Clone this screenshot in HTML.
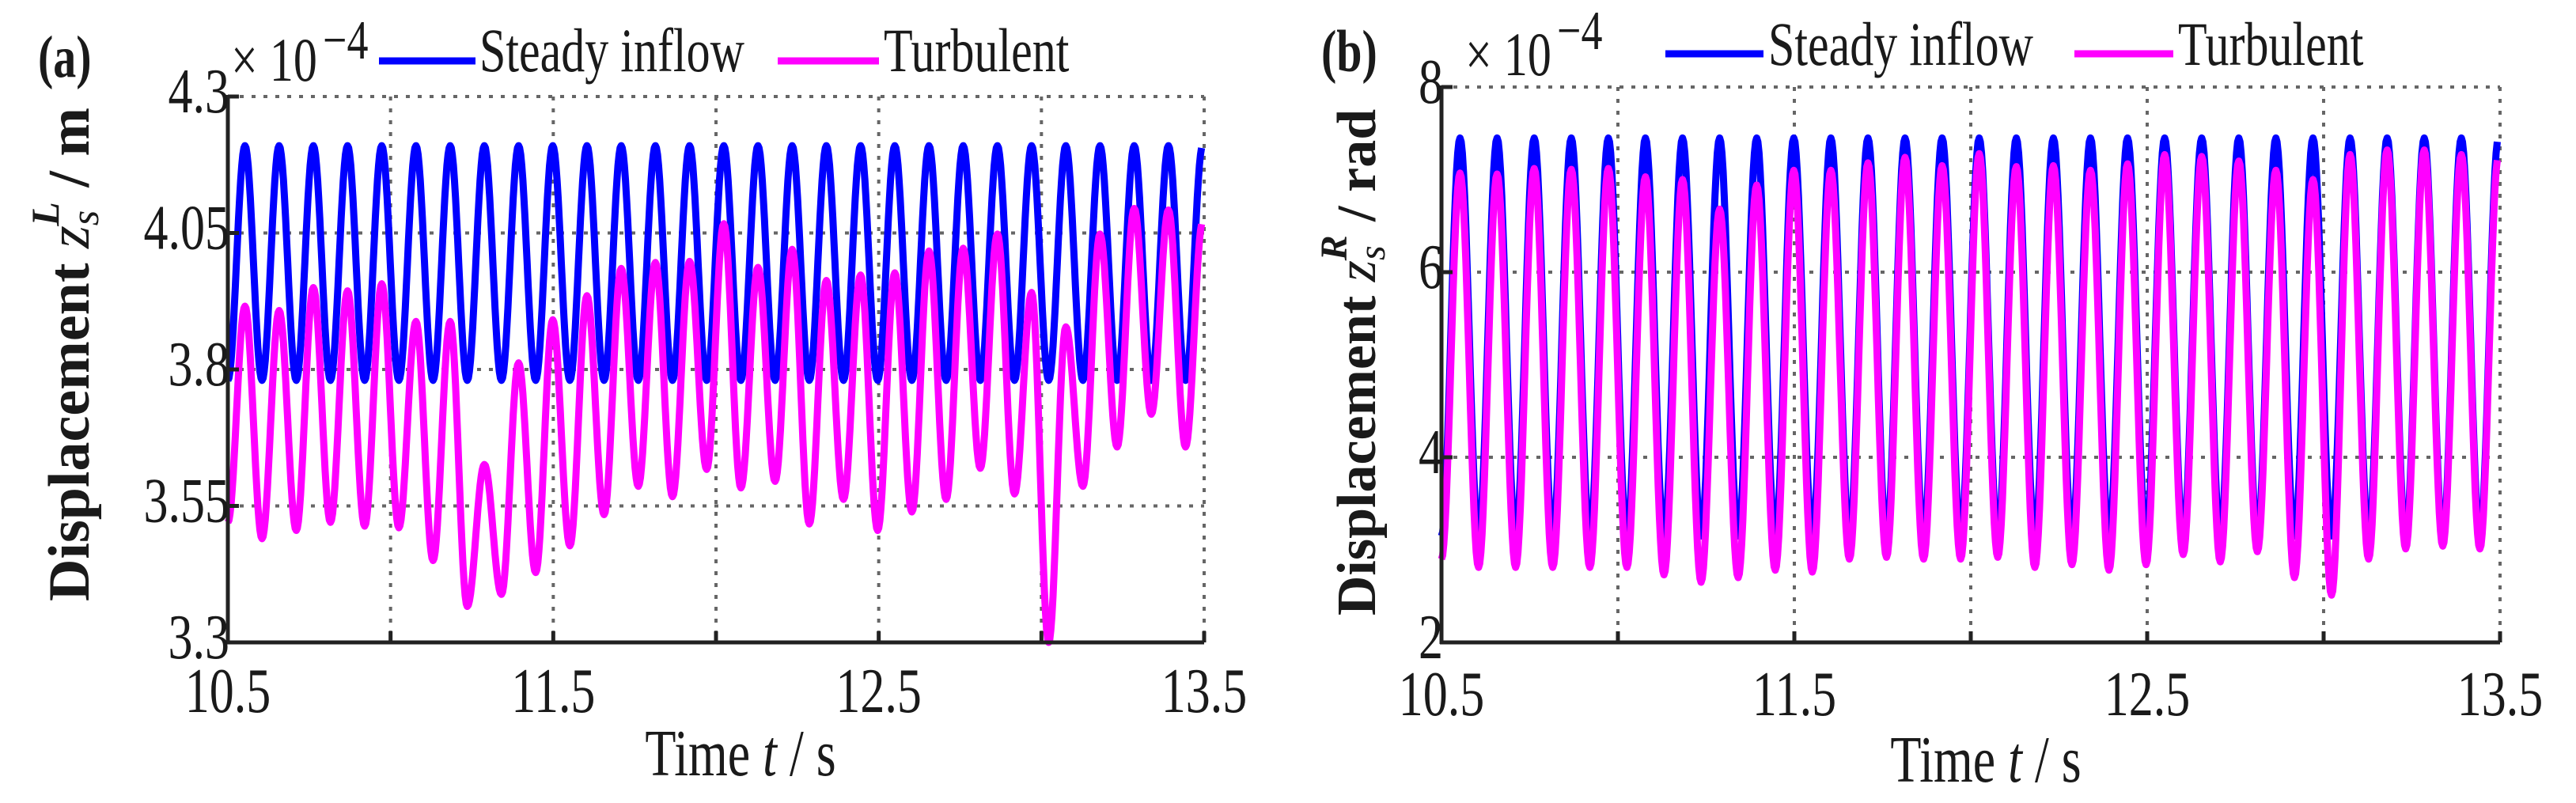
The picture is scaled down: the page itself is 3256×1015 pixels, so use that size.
<!DOCTYPE html>
<html><head><meta charset="utf-8">
<style>
html,body{margin:0;padding:0;background:#fff;}
svg{display:block;}
text{font-family:"Liberation Serif","DejaVu Serif",serif;fill:#1a1a1a;}
</style></head>
<body>
<svg id="fig" width="3256" height="1015" viewBox="0 0 3256 1015" xmlns="http://www.w3.org/2000/svg" font-family="Liberation Serif, serif"></svg>
<script>
// ---- shared x data ----
const xTicks = [10.5, 11, 11.5, 12, 12.5, 13, 13.5];
const xTickLabels = ["10.5", "", "11.5", "", "12.5", "", "13.5"];
const period = 0.1051;
const tStart = 10.5;

// ---- panel (a) data (x 1e-4 m) ----
const aYTicks = [3.3, 3.55, 3.8, 4.05, 4.3];
const aYTickLabels = ["3.3", "3.55", "3.8", "4.05", "4.3"];
const aSteadyPeaks = Array(29).fill(4.21);
const aSteadyTroughs = Array(29).fill(3.78);
const aTurbPeaks = [3.916,3.908,3.95,3.944,3.957,3.888,3.888,3.626,3.812,3.891,3.935,3.985,3.996,3.998,4.067,3.987,4.02,3.963,3.973,3.977,4.017,4.022,4.048,3.941,3.878,4.048,4.095,4.092,4.07];
const aTurbTroughs = [3.52,3.49,3.505,3.52,3.513,3.51,3.45,3.366,3.388,3.428,3.477,3.534,3.586,3.567,3.617,3.583,3.595,3.517,3.562,3.505,3.539,3.562,3.619,3.572,3.30,3.586,3.658,3.718,3.658];

// ---- panel (b) data (x 1e-4 rad) ----
const bYTicks = [2, 4, 6, 8];
const bYTickLabels = ["2", "4", "6", "8"];
const bSteadyPeaks = Array(29).fill(7.45);
const bSteadyTroughs = Array(29).fill(3.15);
const bTurbPeaks = [7.07,7.06,7.12,7.11,7.12,7.03,7.0,6.68,6.94,7.1,7.1,7.18,7.24,7.15,7.28,7.14,7.15,7.1,7.17,7.27,7.25,7.2,7.1,7.0,7.27,7.32,7.32,7.27,7.25];
const bTurbTroughs = [2.9,2.81,2.81,2.81,2.81,2.81,2.73,2.65,2.70,2.78,2.76,2.90,2.92,2.90,2.90,2.92,2.81,2.84,2.78,2.84,2.95,2.87,2.98,2.70,2.51,2.90,3.01,3.04,3.01];

const NS = "http://www.w3.org/2000/svg";
const svg = document.getElementById("fig");
function mk(tag, attrs, parent){
  const e = document.createElementNS(NS, tag);
  for (const k in attrs) e.setAttribute(k, attrs[k]);
  (parent||svg).appendChild(e);
  return e;
}
function txt(str, x, y, size, anchor, parent, extra){
  const e = mk("text", Object.assign({x:0, y:0, "font-size":size, "text-anchor":anchor||"start",
    "font-family":"Liberation Serif, serif",
    transform:`translate(${x},${y}) scale(1,1.3)`}, extra||{}), parent);
  e.textContent = str;
  return e;
}

function panel(cfg){
  const g = mk("g", {});
  
  
  const {L,R,T,B,ymin,ymax} = cfg;
  const xs = t => L + (t - 10.5) / 3 * (R - L);
  const ys = v => B - (v - ymin) / (ymax - ymin) * (B - T);
  const grid = mk("g", {stroke:"#666", "stroke-width":4, "stroke-dasharray":"5 10"}, g);
  
  
  xTicks.forEach((t,i)=>{ if(i>0) mk("line",{x1:xs(t),x2:xs(t),y1:T,y2:B},grid); });
  cfg.yTicks.forEach((v,i)=>{ if(i>0) mk("line",{x1:L,x2:R,y1:ys(v),y2:ys(v)},grid); });
  function series(peaks, troughs, color, nm){
    const ext = [];
    for (let i=0;i<troughs.length;i++){ ext.push(troughs[i]); if(i<peaks.length) ext.push(peaks[i]); }
    const h = period/2;
    const pts = [];
    for (let i=0;i<ext.length-1;i++){
      for (let k=0;k<16;k++){
        const f = k/16;
        const t = tStart + (i+f)*h;
        if (t > 13.5) break;
        const v = ext[i] + (ext[i+1]-ext[i])*(1-Math.cos(Math.PI*f))/2;
        pts.push(xs(t).toFixed(1)+","+ys(v).toFixed(1));
      }
    }
    const p = mk("polyline",{points:pts.join(" "), fill:"none", stroke:color, "stroke-width":9, "stroke-linejoin":"round"}, g);
    
    
  }
  series(cfg.sP, cfg.sT, "#0000ff", "steady-inflow-line");
  series(cfg.tP, cfg.tT, "#ff00ff", "turbulent-line");
  const ax = mk("g", {stroke:"#222", "stroke-width":5}, g);
  
  
  mk("line",{x1:L,x2:L,y1:T-2,y2:B+2},ax);
  mk("line",{x1:L-2,x2:R,y1:B,y2:B},ax);
  xTicks.forEach(t=>mk("line",{x1:xs(t),x2:xs(t),y1:B,y2:B-14},ax));
  cfg.yTicks.forEach(v=>mk("line",{x1:L,x2:L+14,y1:ys(v),y2:ys(v)},ax));
  xTicks.forEach((t,i)=>{ if(xTickLabels[i]){ const e=txt(xTickLabels[i], xs(t), cfg.xlabY, 62, "middle", g);
      }});
  cfg.yTicks.forEach((v,i)=>{ const e=txt(cfg.yTickLabels[i], L+2, ys(v)+20, 62, "end", g);
      });
}

panel({name:"panel-a", L:288,R:1522,T:122,B:812,ymin:3.3,ymax:4.3,yTicks:aYTicks,yTickLabels:aYTickLabels,
  sP:aSteadyPeaks,sT:aSteadyTroughs,tP:aTurbPeaks,tT:aTurbTroughs, xlabY:900});
panel({name:"panel-b", L:1822,R:3160,T:110,B:812,ymin:2,ymax:8,yTicks:bYTicks,yTickLabels:bYTickLabels,
  sP:bSteadyPeaks,sT:bSteadyTroughs,tP:bTurbPeaks,tT:bTurbTroughs, xlabY:904});

(function(){
  function t(str,x,y,size,attrs,name){
    const e=document.createElementNS(NS,"text");
    e.setAttribute("x",0);e.setAttribute("y",0);e.setAttribute("font-size",size);
    e.setAttribute("font-family","Liberation Serif, serif");
    for(const k in attrs) e.setAttribute(k,attrs[k]);
    if(!attrs.transform) e.setAttribute("transform",`translate(${x},${y}) scale(1,1.3)`);
    e.innerHTML=str;
    
    
    svg.appendChild(e);return e;
  }
  function line(x1,x2,y,c,name){
    const l=document.createElementNS(NS,"line");
    l.setAttribute("x1",x1);l.setAttribute("x2",x2);l.setAttribute("y1",y);l.setAttribute("y2",y);
    l.setAttribute("stroke",c);l.setAttribute("stroke-width",9);
    
    
    svg.appendChild(l);
  }
  t("(a)",48,97,58,{"font-weight":"bold"},"panel-a-label");
  t("× 10",292,102,60,{},"panel-a-exponent");
  t("−4",408,74,54,{},"panel-a-exponent-power");
  line(479,601,77,"#0000ff","legend-steady-swatch");
  t("Steady inflow",606,90,60,{},"legend-steady-label");
  line(983,1111,77,"#ff00ff","legend-turbulent-swatch");
  t("Turbulent",1117,90,60,{},"legend-turbulent-label");
  t('Displacement <tspan font-style="italic" font-weight="normal">z</tspan><tspan font-style="italic" font-size="50" dy="12" font-weight="normal">s</tspan><tspan font-style="italic" font-size="50" dy="-50" dx="-20">L</tspan><tspan dy="38"> / m</tspan>',
    0,0,74,{"font-weight":"bold","text-anchor":"middle",transform:"translate(112,448) rotate(-90)"},"y-axis-title-a");
  t('Time <tspan font-style="italic">t</tspan> / s',936,980,64,{"text-anchor":"middle"},"x-axis-title-a");
  t("(b)",1670,90,58,{"font-weight":"bold"},"panel-b-label");
  t("× 10",1852,95,60,{},"panel-b-exponent");
  t("−4",1968,62,54,{},"panel-b-exponent-power");
  line(2105,2229,68,"#0000ff","legend-steady-swatch-b");
  t("Steady inflow",2235,82,60,{},"legend-steady-label-b");
  line(2622,2747,68,"#ff00ff","legend-turbulent-swatch-b");
  t("Turbulent",2753,82,60,{},"legend-turbulent-label-b");
  t('Displacement <tspan font-style="italic" font-weight="normal">z</tspan><tspan font-style="italic" font-size="48" dy="12" font-weight="normal">s</tspan><tspan font-style="italic" font-size="48" dy="-48" dx="-19">R</tspan><tspan dy="36"> / rad</tspan>',
    0,0,70,{"font-weight":"bold","text-anchor":"middle",transform:"translate(1738,458) rotate(-90)"},"y-axis-title-b");
  t('Time <tspan font-style="italic">t</tspan> / s',2510,988,64,{"text-anchor":"middle"},"x-axis-title-b");
})();
</script>
</body></html>
